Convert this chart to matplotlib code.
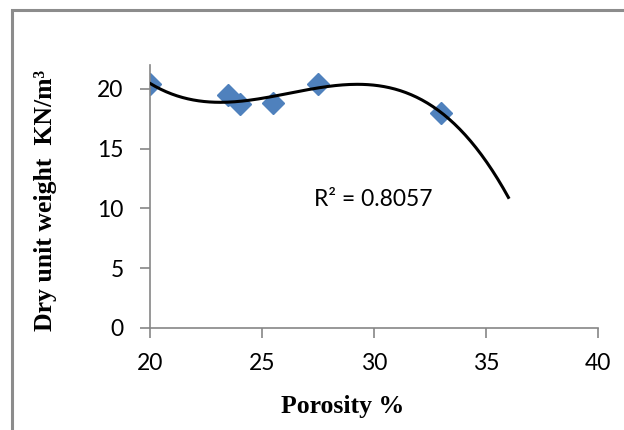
import matplotlib

matplotlib.use("Agg")
import matplotlib.pyplot as plt
import numpy as np
from matplotlib.patches import Rectangle

# data
porosity = [20.0, 23.5, 24.0, 25.5, 27.5, 33.0]
dry_weight = [20.4, 19.5, 18.7, 18.8, 20.4, 18.0]
x_ticks = [20, 25, 30, 35, 40]
y_ticks = [0, 5, 10, 15, 20]
r2_label = "R² = 0.8057"
trend_end = 36.0  # trendline forecast forward to 36

BLUE = "#4F81BD"
GRAY = "#868686"

fig = plt.figure(figsize=(6.24, 4.30), dpi=100)
ax = fig.add_axes([150 / 624, 1 - 328 / 430, 448 / 624, 263 / 430])

# outer chart border (Excel chart area)
fig.patches.append(
    Rectangle((11.5 / 624, -0.2), 2.0, 1.2 - 10 / 430, transform=fig.transFigure,
              fill=False, edgecolor="#8c8c8c", linewidth=2.2, zorder=0)
)

# 3rd-order polynomial trendline
coef = np.polyfit(porosity, dry_weight, 3)
xs = np.linspace(min(porosity), trend_end, 200)
ax.plot(xs, np.polyval(coef, xs), color="black", linewidth=2.2, zorder=3)

ax.plot(porosity, dry_weight, linestyle="none", marker="D", markersize=11,
        color=BLUE, markeredgecolor=BLUE, zorder=2)

ax.set_xlim(20, 40)
ax.set_ylim(0, 22)
ax.set_xticks(x_ticks)
ax.set_yticks(y_ticks)

tick_font = {"family": ["Lato", "DejaVu Sans"], "size": 16.5}
ax.set_xticklabels([str(t) for t in x_ticks], fontdict=tick_font)
ax.set_yticklabels([str(t) for t in y_ticks], fontdict=tick_font)

for side in ("top", "right"):
    ax.spines[side].set_visible(False)
for side in ("left", "bottom"):
    ax.spines[side].set_color(GRAY)
    ax.spines[side].set_linewidth(1.2)
ax.tick_params(direction="out", length=7, width=1.2, color=GRAY)
ax.tick_params(axis="x", pad=11)
ax.tick_params(axis="y", pad=12)

label_font = {"family": ["Liberation Serif", "DejaVu Serif"], "weight": "bold", "size": 18.5}
fig.text(343 / 624, 1 - 406 / 430, "Porosity %", ha="center", va="center", **label_font)
fig.text(46 / 624, 1 - 200 / 430, "Dry unit weight  KN/m³", ha="center", va="center",
         rotation=90, **label_font)

ax.text(27.3, 10.75, r2_label, ha="left", va="center",
        family=["Lato", "DejaVu Sans"], fontsize=16.5)

fig.savefig("out.png", dpi=100)
